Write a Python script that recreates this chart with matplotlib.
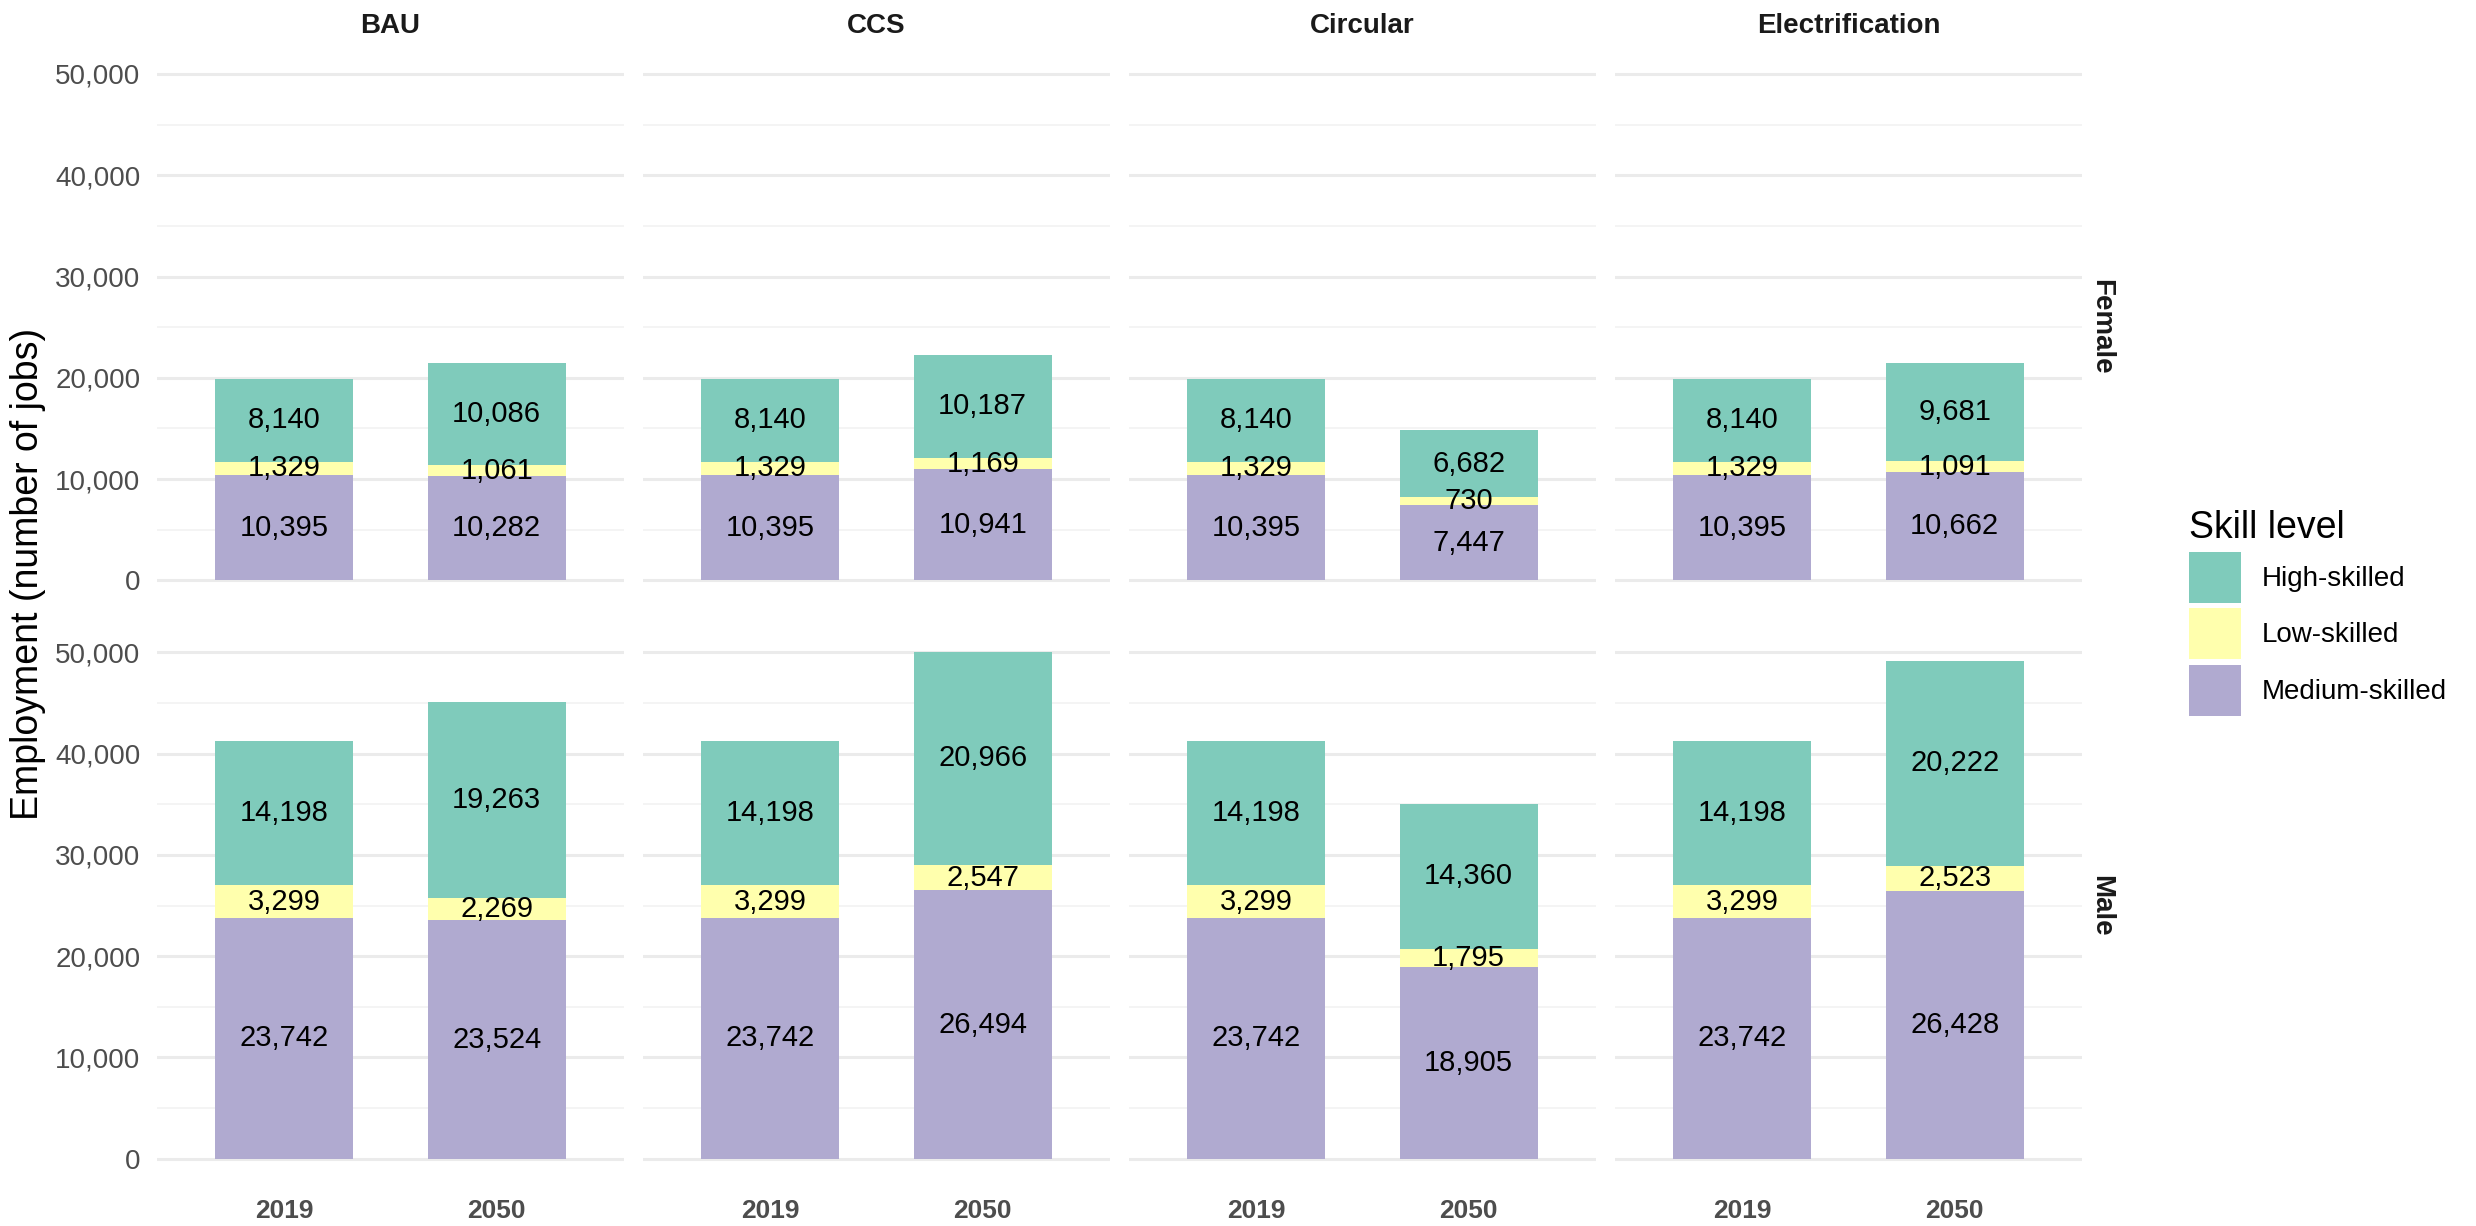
import matplotlib
matplotlib.use("Agg")
import matplotlib.pyplot as plt
from matplotlib.patches import Patch
from matplotlib.ticker import MultipleLocator
import numpy as np

plt.rcParams['font.family'] = ['Liberation Sans', 'DejaVu Sans']

scenarios = ["BAU", "CCS", "Circular", "Electrification"]
genders = ["Female", "Male"]
years = ["2019", "2050"]
skills = ["High-skilled", "Low-skilled", "Medium-skilled"]
skill_colors = ["#7fcbbb", "#ffffad", "#b0aad0"]

# one row per scenario, columns = 2019, 2050
female_medium = [[10395, 10282], [10395, 10941], [10395, 7447], [10395, 10662]]
female_low = [[1329, 1061], [1329, 1169], [1329, 730], [1329, 1091]]
female_high = [[8140, 10086], [8140, 10187], [8140, 6682], [8140, 9681]]

male_medium = [[23742, 23524], [23742, 26494], [23742, 18905], [23742, 26428]]
male_low = [[3299, 2269], [3299, 2547], [3299, 1795], [3299, 2523]]
male_high = [[14198, 19263], [14198, 20966], [14198, 14360], [14198, 20222]]

data = {
    "Female": {"Medium-skilled": female_medium, "Low-skilled": female_low, "High-skilled": female_high},
    "Male": {"Medium-skilled": male_medium, "Low-skilled": male_low, "High-skilled": male_high},
}
color_of = dict(zip(skills, skill_colors))
stack_order = ["Medium-skilled", "Low-skilled", "High-skilled"]

W, H = 2476, 1226
fig = plt.figure(figsize=(W / 200, H / 200), dpi=200)

col_left = [157, 643, 1129, 1615]
col_w = 467
row_top = [48.6, 627]
row_h = 557

for gi, g in enumerate(genders):
    for si, s in enumerate(scenarios):
        ax = fig.add_axes([col_left[si] / W, 1 - (row_top[gi] + row_h) / H, col_w / W, row_h / H])
        x = np.arange(len(years))
        bottom = np.zeros(len(years))
        for sk in stack_order:
            vals = np.array(data[g][sk][si], dtype=float)
            ax.bar(x, vals, 0.65, bottom=bottom, color=color_of[sk], zorder=2)
            for xi, v, b in zip(x, vals, bottom):
                ax.text(xi, b + v / 2, f"{int(v):,}", ha="center", va="center",
                        fontsize=10.5, color="black", zorder=3)
            bottom += vals

        ax.set_xlim(-0.6, 1.6)
        ax.set_ylim(-2500, 52507)
        ax.yaxis.set_major_locator(MultipleLocator(10000))
        ax.yaxis.set_minor_locator(MultipleLocator(5000))
        ax.grid(True, axis="y", which="major", color="#ebebeb", lw=1.1, zorder=0)
        ax.grid(True, axis="y", which="minor", color="#f2f2f2", lw=0.6, zorder=0)
        ax.set_axisbelow(True)
        for sp in ax.spines.values():
            sp.set_visible(False)
        ax.tick_params(axis="both", which="both", length=0)
        ax.tick_params(axis="y", labelsize=10, labelcolor="#4d4d4d", pad=6)
        ax.tick_params(axis="x", labelsize=9.5, labelcolor="#4d4d4d", pad=5.4)

        ax.set_xticks(x)
        if gi == len(genders) - 1:
            ax.set_xticklabels(years, fontweight="bold")
        else:
            ax.set_xticklabels([])
        if si == 0:
            ax.set_yticklabels([f"{int(t):,}" for t in ax.get_yticks()])
        else:
            ax.set_yticklabels([])

        if gi == 0:
            ax.set_title(s, fontsize=10, fontweight="bold", color="#1a1a1a", pad=5.6)
        if si == len(scenarios) - 1:
            ax.text(1.04, 0.5, g, transform=ax.transAxes, rotation=-90, ha="center",
                    va="center", fontsize=10, fontweight="bold", color="#1a1a1a")

fig.text(28 / W, 1 - 574 / H, "Employment (number of jobs)", rotation=90, ha="center",
         va="center", fontsize=13.5)

handles = [Patch(facecolor=c, edgecolor="none") for c in skill_colors]
fig.legend(handles, skills, loc="upper left", bbox_to_anchor=(2189 / W, 1 - 510 / H),
           title="Skill level", title_fontsize=13.5, fontsize=10, frameon=False,
           handlelength=1.87, handleheight=2.45, handletextpad=0.74, labelspacing=0.2,
           borderpad=0, borderaxespad=0, alignment="left")

fig.savefig("out.png", dpi=200, facecolor="white")
